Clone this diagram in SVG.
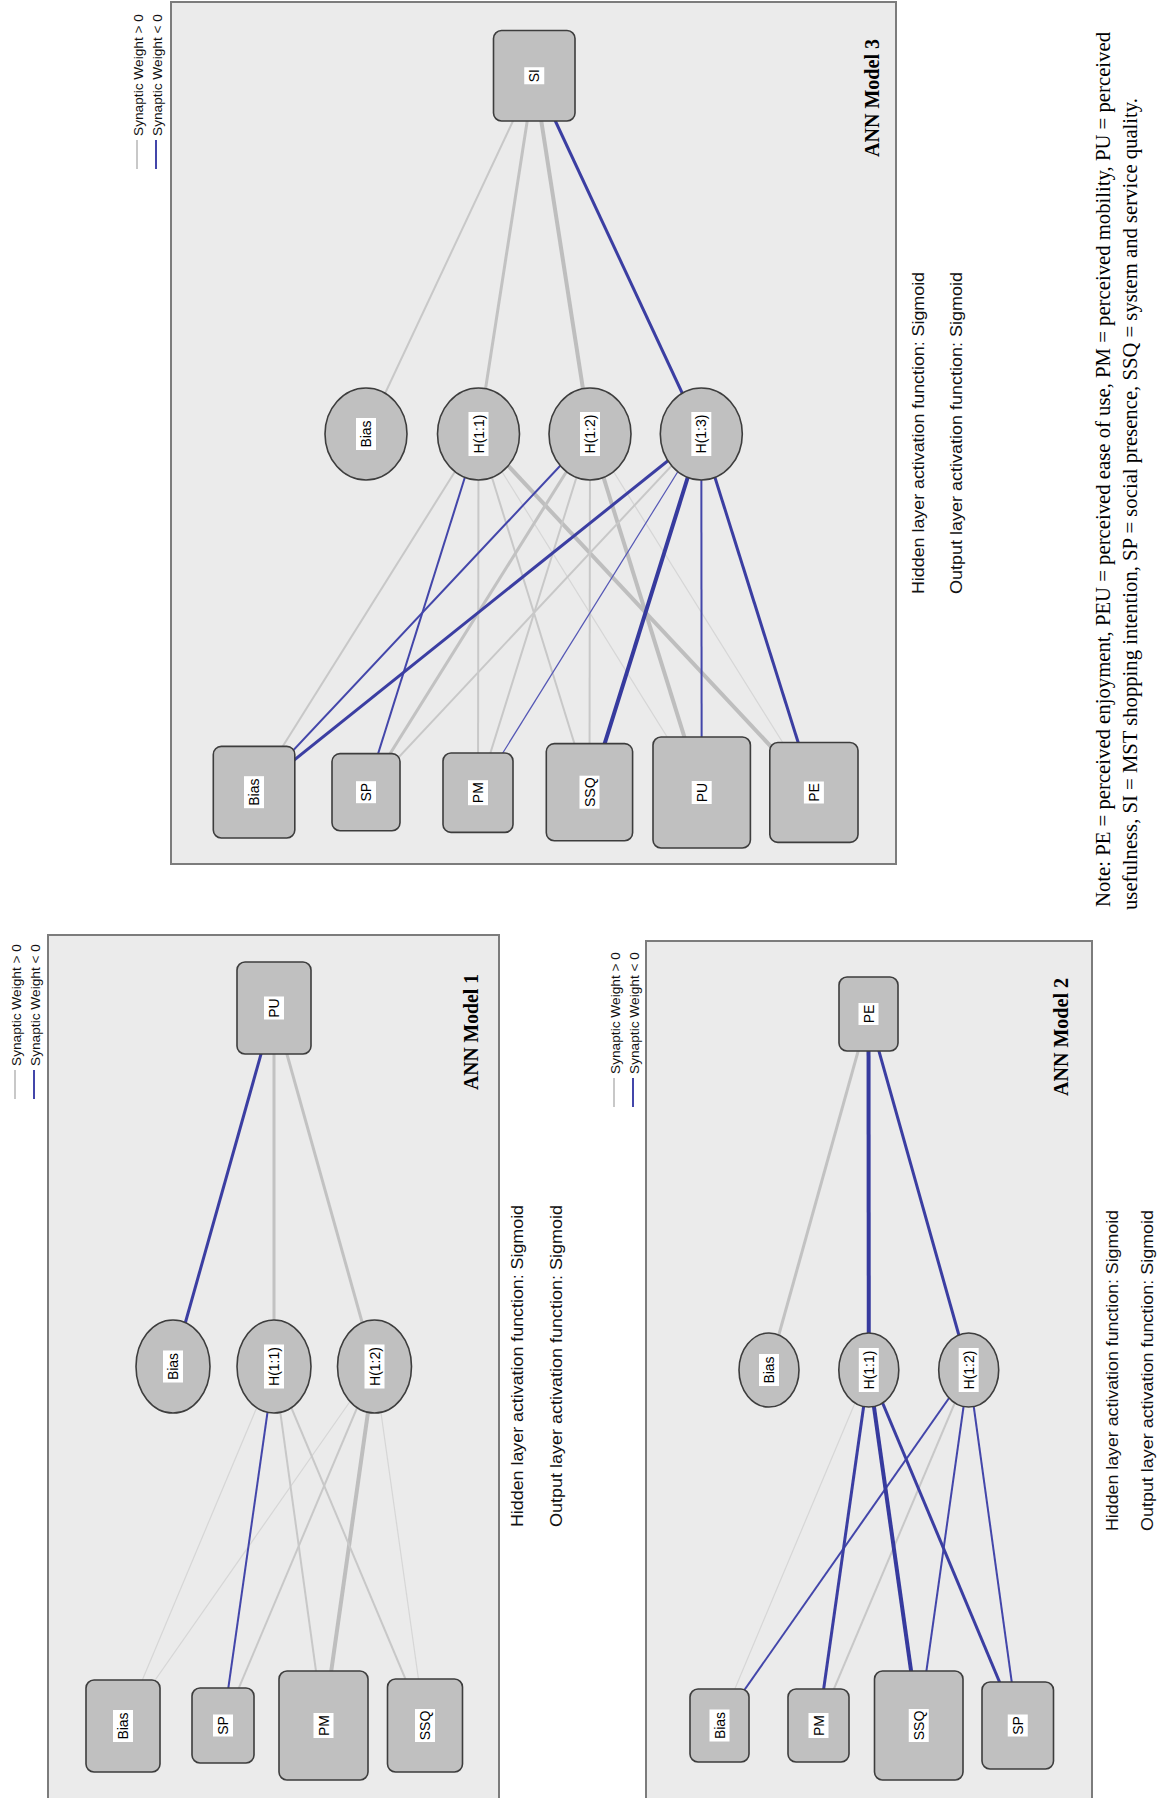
<svg xmlns="http://www.w3.org/2000/svg" width="1159" height="1798" viewBox="0 0 1159 1798">
<style>
.panel{fill:#ebebeb;stroke:#7c7c7c;stroke-width:2}
.node{fill:#c0c0c0;stroke:#3d3d3d;stroke-width:1.6}
.lbl{fill:#ffffff}
.lt{font-family:"Liberation Sans",Arial,sans-serif;font-size:14px;fill:#000;text-anchor:middle}
.info{font-family:"Liberation Sans",Arial,sans-serif;font-size:16px;fill:#111}
.leg{font-family:"Liberation Sans",Arial,sans-serif;font-size:13.5px;fill:#111}
.title{font-family:"Liberation Serif","Times New Roman",serif;font-size:20px;font-weight:bold;fill:#000}
.note{font-family:"Liberation Serif","Times New Roman",serif;font-size:20.5px;fill:#000}
.g1{stroke:#d6d6d6;stroke-width:1.2;fill:none}
.g2{stroke:#c8c8c8;stroke-width:2;fill:none}
.g3{stroke:#c2c2c2;stroke-width:3;fill:none}
.g4{stroke:#bebebe;stroke-width:4;fill:none}
.b1{stroke:#5457b5;stroke-width:1.2;fill:none}
.b2{stroke:#4346aa;stroke-width:2;fill:none}
.b3{stroke:#3b3ea2;stroke-width:3;fill:none}
.b4{stroke:#363a9e;stroke-width:4;fill:none}
.lg{stroke:#c8c8c8;stroke-width:2}
.lb{stroke:#4346aa;stroke-width:2}
</style>

<!-- Panels -->
<rect class="panel" x="48" y="935" width="451" height="900"/>
<rect class="panel" x="646" y="941" width="446" height="900"/>
<rect class="panel" x="171" y="2" width="725" height="862"/>

<!-- Connectors -->
<g id="connectors">
  <!-- Model 1 -->
  <line class="b3" x1="274" y1="1008" x2="173" y2="1366.5"/>
  <line class="g3" x1="274" y1="1008" x2="274" y2="1366.5"/>
  <line class="g3" x1="274" y1="1008" x2="374.5" y2="1366.5"/>
  <line class="g1" x1="274" y1="1366.5" x2="123" y2="1726"/>
  <line class="g1" x1="374.5" y1="1366.5" x2="123" y2="1726"/>
  <line class="b2" x1="274" y1="1366.5" x2="223" y2="1725.5"/>
  <line class="g2" x1="374.5" y1="1366.5" x2="223" y2="1725.5"/>
  <line class="g2" x1="274" y1="1366.5" x2="323.5" y2="1725.5"/>
  <line class="g4" x1="374.5" y1="1366.5" x2="323.5" y2="1725.5"/>
  <line class="g2" x1="274" y1="1366.5" x2="425" y2="1725.5"/>
  <line class="g1" x1="374.5" y1="1366.5" x2="425" y2="1725.5"/>
  <!-- Model 2 -->
  <line class="g3" x1="868.5" y1="1014" x2="769" y2="1370"/>
  <line class="b4" x1="868.5" y1="1014" x2="868.8" y2="1370"/>
  <line class="b3" x1="868.5" y1="1014" x2="968.7" y2="1370"/>
  <line class="g1" x1="868.8" y1="1370" x2="719.5" y2="1725.5"/>
  <line class="b2" x1="968.7" y1="1370" x2="719.5" y2="1725.5"/>
  <line class="b3" x1="868.8" y1="1370" x2="818.5" y2="1725.5"/>
  <line class="g2" x1="968.7" y1="1370" x2="818.5" y2="1725.5"/>
  <line class="b4" x1="868.8" y1="1370" x2="918.75" y2="1725.5"/>
  <line class="b2" x1="968.7" y1="1370" x2="918.75" y2="1725.5"/>
  <line class="b3" x1="868.8" y1="1370" x2="1017.75" y2="1725.5"/>
  <line class="b2" x1="968.7" y1="1370" x2="1017.75" y2="1725.5"/>
  <!-- Model 3 -->
  <line class="g2" x1="534.25" y1="75.75" x2="366" y2="434"/>
  <line class="g3" x1="534.25" y1="75.75" x2="478.5" y2="434"/>
  <line class="g4" x1="534.25" y1="75.75" x2="590" y2="434"/>
  <line class="b3" x1="534.25" y1="75.75" x2="701.3" y2="434"/>
  <line class="g2" x1="478.5" y1="434" x2="254" y2="792.2"/>
  <line class="b2" x1="478.5" y1="434" x2="366" y2="792.2"/>
  <line class="g2" x1="478.5" y1="434" x2="478" y2="792.7"/>
  <line class="g2" x1="478.5" y1="434" x2="589.5" y2="792.2"/>
  <line class="g1" x1="478.5" y1="434" x2="701.7" y2="792.5"/>
  <line class="g4" x1="478.5" y1="434" x2="813.9" y2="792.5"/>
  <line class="b2" x1="590" y1="434" x2="254" y2="792.2"/>
  <line class="g3" x1="590" y1="434" x2="366" y2="792.2"/>
  <line class="g2" x1="590" y1="434" x2="478" y2="792.7"/>
  <line class="g2" x1="590" y1="434" x2="589.5" y2="792.2"/>
  <line class="g4" x1="590" y1="434" x2="701.7" y2="792.5"/>
  <line class="g1" x1="590" y1="434" x2="813.9" y2="792.5"/>
  <line class="b3" x1="701.3" y1="434" x2="254" y2="792.2"/>
  <line class="g2" x1="701.3" y1="434" x2="366" y2="792.2"/>
  <line class="b1" x1="701.3" y1="434" x2="478" y2="792.7"/>
  <line class="b4" x1="701.3" y1="434" x2="589.5" y2="792.2"/>
  <line class="b2" x1="701.3" y1="434" x2="701.7" y2="792.5"/>
  <line class="b3" x1="701.3" y1="434" x2="813.9" y2="792.5"/>
</g>

<!-- Model 1 nodes -->
<g id="m1-out-pu"><rect class="node" x="237" y="962" width="74" height="92" rx="8"/><rect class="lbl" x="264" y="996.5" width="20" height="23"/><text class="lt" transform="translate(274,1008) rotate(-90)" y="5">PU</text></g>
<g id="m1-h-bias"><ellipse class="node" cx="173" cy="1366.5" rx="37" ry="46.5"/><rect class="lbl" x="163" y="1350.5" width="20" height="32"/><text class="lt" transform="translate(173,1366.5) rotate(-90)" y="5">Bias</text></g>
<g id="m1-h11"><ellipse class="node" cx="274" cy="1366.5" rx="37" ry="46.5"/><rect class="lbl" x="264" y="1344.5" width="20" height="44"/><text class="lt" transform="translate(274,1366.5) rotate(-90)" y="5">H(1:1)</text></g>
<g id="m1-h12"><ellipse class="node" cx="374.5" cy="1366.5" rx="37" ry="46.5"/><rect class="lbl" x="364.5" y="1344.5" width="20" height="44"/><text class="lt" transform="translate(374.5,1366.5) rotate(-90)" y="5">H(1:2)</text></g>
<g id="m1-in-bias"><rect class="node" x="86" y="1680" width="74" height="92" rx="8"/><rect class="lbl" x="113" y="1710" width="20" height="32"/><text class="lt" transform="translate(123,1726) rotate(-90)" y="5">Bias</text></g>
<g id="m1-in-sp"><rect class="node" x="192" y="1688" width="62" height="75" rx="8"/><rect class="lbl" x="213" y="1714.5" width="20" height="22"/><text class="lt" transform="translate(223,1725.5) rotate(-90)" y="5">SP</text></g>
<g id="m1-in-pm"><rect class="node" x="279" y="1671" width="89" height="109" rx="8"/><rect class="lbl" x="313.5" y="1713" width="20" height="25"/><text class="lt" transform="translate(323.5,1725.5) rotate(-90)" y="5">PM</text></g>
<g id="m1-in-ssq"><rect class="node" x="387.5" y="1679" width="75" height="93" rx="8"/><rect class="lbl" x="415" y="1709" width="20" height="33"/><text class="lt" transform="translate(425,1725.5) rotate(-90)" y="5">SSQ</text></g>

<!-- Model 2 nodes -->
<g id="m2-out-pe"><rect class="node" x="839" y="977" width="59" height="74" rx="8"/><rect class="lbl" x="858.5" y="1003" width="20" height="22"/><text class="lt" transform="translate(868.5,1014) rotate(-90)" y="5">PE</text></g>
<g id="m2-h-bias"><ellipse class="node" cx="769" cy="1370" rx="30" ry="37"/><rect class="lbl" x="759" y="1354" width="20" height="32"/><text class="lt" transform="translate(769,1370) rotate(-90)" y="5">Bias</text></g>
<g id="m2-h11"><ellipse class="node" cx="868.8" cy="1370" rx="30" ry="37"/><rect class="lbl" x="858.8" y="1348" width="20" height="44"/><text class="lt" transform="translate(868.8,1370) rotate(-90)" y="5">H(1:1)</text></g>
<g id="m2-h12"><ellipse class="node" cx="968.7" cy="1370" rx="30" ry="37"/><rect class="lbl" x="958.7" y="1348" width="20" height="44"/><text class="lt" transform="translate(968.7,1370) rotate(-90)" y="5">H(1:2)</text></g>
<g id="m2-in-bias"><rect class="node" x="690" y="1689" width="59" height="73" rx="8"/><rect class="lbl" x="709.5" y="1709.5" width="20" height="32"/><text class="lt" transform="translate(719.5,1725.5) rotate(-90)" y="5">Bias</text></g>
<g id="m2-in-pm"><rect class="node" x="788" y="1689" width="61" height="73" rx="8"/><rect class="lbl" x="808.5" y="1713" width="20" height="25"/><text class="lt" transform="translate(818.5,1725.5) rotate(-90)" y="5">PM</text></g>
<g id="m2-in-ssq"><rect class="node" x="874.5" y="1671" width="88.5" height="109" rx="8"/><rect class="lbl" x="908.75" y="1709" width="20" height="33"/><text class="lt" transform="translate(918.75,1725.5) rotate(-90)" y="5">SSQ</text></g>
<g id="m2-in-sp"><rect class="node" x="982" y="1682" width="71.5" height="87" rx="8"/><rect class="lbl" x="1007.75" y="1714.5" width="20" height="22"/><text class="lt" transform="translate(1017.75,1725.5) rotate(-90)" y="5">SP</text></g>

<!-- Model 3 nodes -->
<g id="m3-out-si"><rect class="node" x="493.5" y="30.5" width="81.5" height="90.5" rx="8"/><rect class="lbl" x="524.25" y="67.25" width="20" height="17"/><text class="lt" transform="translate(534.25,75.75) rotate(-90)" y="5">SI</text></g>
<g id="m3-h-bias"><ellipse class="node" cx="366" cy="434" rx="41" ry="46"/><rect class="lbl" x="356" y="418" width="20" height="32"/><text class="lt" transform="translate(366,434) rotate(-90)" y="5">Bias</text></g>
<g id="m3-h11"><ellipse class="node" cx="478.5" cy="434" rx="41" ry="46"/><rect class="lbl" x="468.5" y="412" width="20" height="44"/><text class="lt" transform="translate(478.5,434) rotate(-90)" y="5">H(1:1)</text></g>
<g id="m3-h12"><ellipse class="node" cx="590" cy="434" rx="41" ry="46"/><rect class="lbl" x="580" y="412" width="20" height="44"/><text class="lt" transform="translate(590,434) rotate(-90)" y="5">H(1:2)</text></g>
<g id="m3-h13"><ellipse class="node" cx="701.3" cy="434" rx="41" ry="46"/><rect class="lbl" x="691.3" y="412" width="20" height="44"/><text class="lt" transform="translate(701.3,434) rotate(-90)" y="5">H(1:3)</text></g>
<g id="m3-in-bias"><rect class="node" x="213.3" y="746.4" width="81.5" height="91.6" rx="8"/><rect class="lbl" x="244" y="776.2" width="20" height="32"/><text class="lt" transform="translate(254,792.2) rotate(-90)" y="5">Bias</text></g>
<g id="m3-in-sp"><rect class="node" x="332" y="753.6" width="68" height="77.1" rx="8"/><rect class="lbl" x="356" y="781.2" width="20" height="22"/><text class="lt" transform="translate(366,792.2) rotate(-90)" y="5">SP</text></g>
<g id="m3-in-pm"><rect class="node" x="443" y="753" width="70" height="79.4" rx="8"/><rect class="lbl" x="468" y="780.2" width="20" height="25"/><text class="lt" transform="translate(478,792.7) rotate(-90)" y="5">PM</text></g>
<g id="m3-in-ssq"><rect class="node" x="546.3" y="743.6" width="86.3" height="97.1" rx="8"/><rect class="lbl" x="579.5" y="775.7" width="20" height="33"/><text class="lt" transform="translate(589.5,792.2) rotate(-90)" y="5">SSQ</text></g>
<g id="m3-in-pu"><rect class="node" x="653" y="737" width="97.4" height="111" rx="8"/><rect class="lbl" x="691.7" y="781" width="20" height="23"/><text class="lt" transform="translate(701.7,792.5) rotate(-90)" y="5">PU</text></g>
<g id="m3-in-pe"><rect class="node" x="769.8" y="742.5" width="88.2" height="99.9" rx="8"/><rect class="lbl" x="803.9" y="781.5" width="20" height="22"/><text class="lt" transform="translate(813.9,792.5) rotate(-90)" y="5">PE</text></g>

<!-- Legends -->
<g id="legend-1">
  <line class="lg" x1="15" y1="1070" x2="15" y2="1099"/>
  <line class="lb" x1="34" y1="1070" x2="34" y2="1099"/>
  <text class="leg" transform="translate(20.5,1066) rotate(-90)" textLength="122" lengthAdjust="spacingAndGlyphs">Synaptic Weight &gt; 0</text>
  <text class="leg" transform="translate(39.5,1066) rotate(-90)" textLength="122" lengthAdjust="spacingAndGlyphs">Synaptic Weight &lt; 0</text>
</g>
<g id="legend-2">
  <line class="lg" x1="614" y1="1078" x2="614" y2="1107"/>
  <line class="lb" x1="633" y1="1078" x2="633" y2="1107"/>
  <text class="leg" transform="translate(619.5,1074) rotate(-90)" textLength="122" lengthAdjust="spacingAndGlyphs">Synaptic Weight &gt; 0</text>
  <text class="leg" transform="translate(638.5,1074) rotate(-90)" textLength="122" lengthAdjust="spacingAndGlyphs">Synaptic Weight &lt; 0</text>
</g>
<g id="legend-3">
  <line class="lg" x1="137" y1="140" x2="137" y2="169"/>
  <line class="lb" x1="156" y1="140" x2="156" y2="169"/>
  <text class="leg" transform="translate(142.5,136) rotate(-90)" textLength="122" lengthAdjust="spacingAndGlyphs">Synaptic Weight &gt; 0</text>
  <text class="leg" transform="translate(161.5,136) rotate(-90)" textLength="122" lengthAdjust="spacingAndGlyphs">Synaptic Weight &lt; 0</text>
</g>

<!-- Titles and info -->
<text class="title" transform="translate(478,1090) rotate(-90)" textLength="116" lengthAdjust="spacingAndGlyphs">ANN Model 1</text>
<text class="info" transform="translate(523,1527) rotate(-90)" textLength="322" lengthAdjust="spacingAndGlyphs">Hidden layer activation function: Sigmoid</text>
<text class="info" transform="translate(562,1527) rotate(-90)" textLength="322" lengthAdjust="spacingAndGlyphs">Output layer activation function: Sigmoid</text>

<text class="title" transform="translate(1068,1096) rotate(-90)" textLength="118" lengthAdjust="spacingAndGlyphs">ANN Model 2</text>
<text class="info" transform="translate(1118,1531) rotate(-90)" textLength="321" lengthAdjust="spacingAndGlyphs">Hidden layer activation function: Sigmoid</text>
<text class="info" transform="translate(1153,1531) rotate(-90)" textLength="321" lengthAdjust="spacingAndGlyphs">Output layer activation function: Sigmoid</text>

<text class="title" transform="translate(879,157) rotate(-90)" textLength="118" lengthAdjust="spacingAndGlyphs">ANN Model 3</text>
<text class="info" transform="translate(924,594) rotate(-90)" textLength="322" lengthAdjust="spacingAndGlyphs">Hidden layer activation function: Sigmoid</text>
<text class="info" transform="translate(962,594) rotate(-90)" textLength="322" lengthAdjust="spacingAndGlyphs">Output layer activation function: Sigmoid</text>

<!-- Note -->
<text class="note" transform="translate(1110,907) rotate(-90)" textLength="875" lengthAdjust="spacingAndGlyphs">Note: PE = perceived enjoyment, PEU = perceived ease of use, PM = perceived mobility, PU = perceived</text>
<text class="note" transform="translate(1137,910) rotate(-90)" textLength="812" lengthAdjust="spacingAndGlyphs">usefulness, SI = MST shopping intention, SP = social presence, SSQ = system and service quality.</text>
</svg>
